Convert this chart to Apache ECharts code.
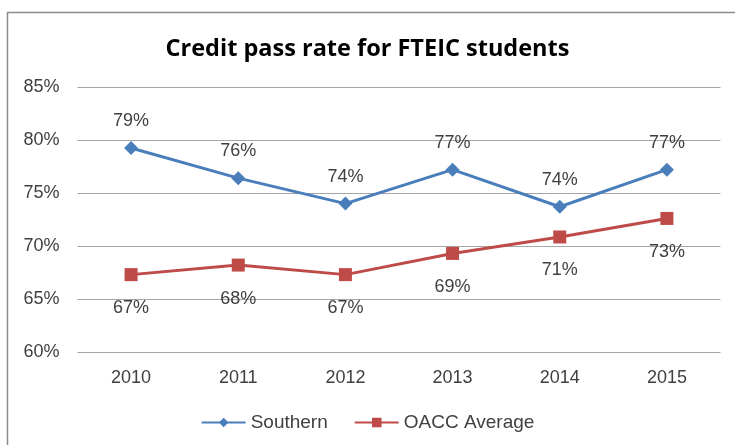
<!DOCTYPE html>
<html><head><meta charset="utf-8">
<script src="https://cdn.jsdelivr.net/npm/echarts@6/dist/echarts.min.js"></script>
<style>html,body{margin:0;padding:0;background:#fff}#c{width:735px;height:445px}</style>
</head><body><div id="c"></div>
<script>
const categories = ['2010','2011','2012','2013','2014','2015'];
const southern = [79.25, 76.4, 74.0, 77.2, 73.7, 77.2];
const oacc = [67.3, 68.2, 67.3, 69.3, 70.85, 72.6];
const yTicks = [60, 65, 70, 75, 80, 85];

const chart = echarts.init(document.getElementById('c'));
const font = 'Liberation Sans, Arial, sans-serif';
chart.setOption({
  animation: false,
  backgroundColor: '#fff',
  graphic: [{type:'rect', shape:{x:7.5,y:12.5,width:740,height:440}, style:{fill:'none', stroke:'#8c8c8c', lineWidth:1.5}, silent:true}],
  title: {text:'Credit pass rate for FTEIC students', left:'center', top:32,
    textStyle:{fontFamily:'Open Sans, Liberation Sans, sans-serif', fontWeight:'bold', fontSize:23.5, color:'#000'}},
  legend: {bottom:8, left:'center', itemWidth:44, itemHeight:12, itemGap:26,
    textStyle:{fontFamily:font, fontSize:19, color:'#404040'},
    data:[{name:'Southern'},{name:'OACC Average'}]},
  grid: {left:77.5, right:14.5, top:87, bottom:93, containLabel:false},
  xAxis: {type:'category', data:categories, boundaryGap:true,
    axisLine:{show:false}, axisTick:{show:false},
    axisLabel:{fontFamily:font, fontSize:18, color:'#404040', margin:17}},
  yAxis: {type:'value', min:yTicks[0], max:yTicks[yTicks.length-1], interval:5,
    axisLine:{show:false}, axisTick:{show:false},
    axisLabel:{fontFamily:font, fontSize:18, color:'#404040', margin:18, formatter: v => v + '%'},
    splitLine:{lineStyle:{color:'#a6a6a6', width:1}}},
  series: [
    {name:'Southern', type:'line', data:southern, symbol:'diamond', symbolSize:14,
     lineStyle:{color:'#4a7ebb', width:3}, itemStyle:{color:'#4a7ebb'},
     label:{show:true, position:'top', distance:11, fontFamily:font, fontSize:18, color:'#404040',
       formatter: p => Math.round(p.value) + '%'}},
    {name:'OACC Average', type:'line', data:oacc, symbol:'rect', symbolSize:13,
     lineStyle:{color:'#be4b48', width:3}, itemStyle:{color:'#be4b48'},
     label:{show:true, position:'bottom', distance:18, fontFamily:font, fontSize:18, color:'#404040',
       formatter: p => Math.round(p.value) + '%'}}
  ]
});
</script></body></html>
